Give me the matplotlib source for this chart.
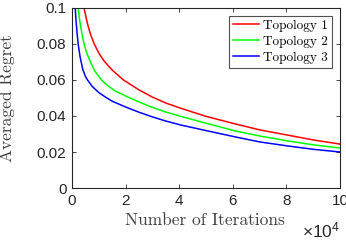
import numpy as np
import matplotlib
matplotlib.use("Agg")
import matplotlib.pyplot as plt

# Valores (iteraciones x 1e4, regret promedio)
iters_t1 = [0, 0.0001, 0.45, 0.52, 0.60, 0.70, 0.83, 1.0, 1.2, 1.5, 1.92, 2.5, 3.0, 3.5, 4.06, 5.0, 6.09, 7.0, 8.08, 9.0, 10.0]
regret_t1 = [0, 1.0, 0.100, 0.095, 0.090, 0.085, 0.080, 0.075, 0.0705, 0.0655, 0.0600, 0.0545, 0.0505, 0.0472, 0.0443, 0.0398, 0.0356, 0.0323, 0.0293, 0.0267, 0.0244]

iters_t2 = [0, 0.0001, 0.23, 0.27, 0.32, 0.38, 0.45, 0.55, 0.7, 0.85, 1.1, 1.3, 1.6, 2.0, 2.5, 3.0, 3.5, 4.06, 5.0, 6.09, 7.0, 8.08, 9.0, 10.0]
regret_t2 = [0, 1.0, 0.100, 0.095, 0.090, 0.085, 0.080, 0.075, 0.0695, 0.065, 0.060, 0.0572, 0.0540, 0.0511, 0.0478, 0.0448, 0.0422, 0.0398, 0.0360, 0.0317, 0.0289, 0.0261, 0.0240, 0.0222]

iters_t3 = [0, 0.0001, 0.12, 0.15, 0.19, 0.23, 0.30, 0.40, 0.50, 0.58, 0.75, 1.0, 1.25, 1.5, 2.0, 2.5, 3.0, 3.5, 4.06, 5.0, 6.09, 7.0, 8.08, 9.0, 10.0]
regret_t3 = [0, 1.0, 0.100, 0.093, 0.086, 0.080, 0.073, 0.066, 0.062, 0.060, 0.0565, 0.053, 0.0505, 0.0482, 0.0450, 0.0421, 0.0395, 0.0372, 0.0350, 0.0319, 0.0284, 0.0256, 0.0233, 0.0215, 0.0200]

labels = ["Topology 1", "Topology 2", "Topology 3"]
colors = ["#ff0000", "#00ff00", "#0000ff"]

xticks = [0, 2, 4, 6, 8, 10]
xtick_labels = ["0", "2", "4", "6", "8", "10"]
yticks = [0, 0.02, 0.04, 0.06, 0.08, 0.1]
ytick_labels = ["0", "0.02", "0.04", "0.06", "0.08", "0.1"]

plt.rcParams["font.family"] = "Liberation Sans"
plt.rcParams["mathtext.fontset"] = "custom"
plt.rcParams["mathtext.rm"] = "Liberation Sans"
plt.rcParams["mathtext.it"] = "Liberation Sans"

gris = "#262626"

fig = plt.figure(figsize=(3.46, 2.44), dpi=100)
ax = fig.add_axes([72 / 346, 1 - 188 / 244, 268 / 346, 180 / 244])

for xs, ys, lab, col in zip([iters_t1, iters_t2, iters_t3],
                            [regret_t1, regret_t2, regret_t3], labels, colors):
    ax.plot(xs, ys, color=col, lw=1.1, label=lab)

ax.set_xlim(0, 10)
ax.set_ylim(0, 0.1)
ax.set_xticks(xticks)
ax.set_xticklabels(xtick_labels)
ax.set_yticks(yticks)
ax.set_yticklabels(ytick_labels)
ax.tick_params(direction="in", top=True, right=True, length=3, width=0.6,
               labelsize=11, colors=gris, pad=4)
for s in ax.spines.values():
    s.set_color(gris)
    s.set_linewidth(0.8)

ax.set_xlabel("Number of Iterations", family="cmr10", fontsize=12.5, color="#404040")
ax.set_ylabel("Averaged Regret", family="cmr10", fontsize=12.5, color="#404040")
ax.xaxis.set_label_coords(0.496, -0.139)
ax.yaxis.set_label_coords(-0.213, 0.5)

# multiplicador del eje x
ax.text(1.0, -0.275, r"$\times10^4$", transform=ax.transAxes, ha="right",
        va="baseline", fontsize=12.5, color=gris)

leg = ax.legend(loc="upper right", prop={"family": "cmr10", "size": 9.5},
                frameon=True, fancybox=False, handlelength=2.0,
                borderpad=0.3, labelspacing=0.27, handletextpad=0.3,
                borderaxespad=0.6)
leg.get_frame().set_edgecolor(gris)
leg.get_frame().set_linewidth(0.8)

fig.savefig("out.png", dpi=100)
